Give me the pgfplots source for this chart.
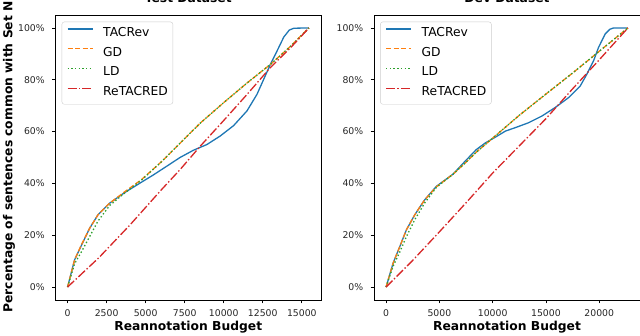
\documentclass[border=0pt]{standalone}
\usepackage{fontspec}
\setmainfont{DejaVu Sans}
\usepackage{pgfplots}
\pgfplotsset{compat=1.18}
\definecolor{c0}{HTML}{1F77B4}
\definecolor{c1}{HTML}{FF7F0E}
\definecolor{c2}{HTML}{2CA02C}
\definecolor{c3}{HTML}{D62728}
\pgfplotsset{
  panel/.style={
    scale only axis, height=285bp, anchor=south west,
    ymin=-5, ymax=105, ytick={0,20,...,100},
    yticklabel={\pgfmathprintnumber{\tick}\%},
    /pgf/number format/assume math mode=true,
    /pgf/number format/1000 sep={},
    scaled x ticks=false,
    tick align=outside, major tick length=3.3bp,
    xtick pos=bottom, ytick pos=left,
    every tick/.style={black, line width=0.75bp},
    axis line style={line width=0.75bp},
    tick label style={font=\fontsize{9.3bp}{11bp}\selectfont, text=black!85},
    xticklabel style={yshift=-3bp},
    yticklabel style={xshift=-4bp},
    label style={font=\fontsize{12.3bp}{14bp}\selectfont\bfseries},
    title style={font=\fontsize{12.3bp}{14bp}\selectfont\bfseries,
      at={(0.5,1)}, anchor=base, yshift=7bp},
    xlabel style={at={(0.5,0)}, anchor=base, yshift=-30bp},
    legend style={at={(0,1)}, anchor=north west, xshift=6.2bp, yshift=-6.7bp,
      draw=black!20, fill=white, rounded corners=2.5bp,
      font=\fontsize{12.3bp}{14bp}\selectfont,
      inner xsep=5bp, inner ysep=5.5bp, row sep=7.8bp, column sep=10bp,
      nodes={inner sep=0bp, text height=9bp, text depth=3bp}},
    legend cell align=left,
    legend image code/.code={\draw[##1] (0bp,4.5bp) -- (25bp,4.5bp);},
    every axis plot/.append style={line width=1.3bp},
  },
  tacrev/.style={c0, solid},
  gd/.style={c1, dash pattern=on 5.2bp off 2.3bp},
  ld/.style={c2, dash pattern=on 1.4bp off 2.3bp},
  retacred/.style={c3, dash pattern=on 9bp off 2.25bp on 1.4bp off 2.25bp},
}

\begin{document}
\begin{tikzpicture}
% left: test set
\begin{axis}[panel, at={(55.5bp,36bp)}, width=265.5bp,
  xmin=-773, xmax=16228, xtick={0,2500,...,15000},
  title={Test Dataset}, xlabel={Reannotation Budget},
  ylabel={Percentage of sentences common with Set N},
  ylabel style={at={(0,0)}, anchor=base west, xshift=-16bp, yshift=43bp}]
  \addplot[tacrev] coordinates {(0,0) (450,10.5) (880,16) (1415,22.7) (1950,27.9)
    (2700,32.4) (3665,36.5) (4740,40.5) (5500,43.3) (6240,46.2) (7200,50) (8058,52.8)
    (8920,55) (9775,58.3) (10630,62.3) (11490,68) (12130,74.4) (12560,80.2)
    (12990,86) (13420,91.2) (13846,96.5) (14200,99.2) (14490,99.9) (15455,100)};
  \addplot[gd] coordinates {(0,0) (450,10.5) (880,16.2) (1415,22.7) (1950,27.9)
    (2700,32.4) (3665,36.8) (4740,41.5) (6000,48.3) (7200,55.5) (8500,63.3)
    (10000,71.2) (11500,78.8) (13000,86) (14200,92.5) (15455,100)};
  \addplot[ld] coordinates {(0,0) (450,9) (880,13.5) (1415,19.5) (1950,25.5)
    (2700,31.5) (3665,36.3) (4740,41.3) (6000,48.3) (7200,55.5) (8500,63.3)
    (10000,71.2) (11500,78.8) (13000,86) (14200,92.5) (15455,100)};
  \addplot[retacred] coordinates {(0,0) (2000,11.3) (4000,24) (6000,37.5) (7200,45.3)
    (8500,54.4) (10000,64.3) (11500,74.4) (13000,84.8) (14300,92.5) (15455,100)};
  \legend{TACRev, GD, LD, ReTACRED}
\end{axis}
% right: dev set
\begin{axis}[panel, at={(374bp,36bp)}, width=266bp,
  xmin=-1134, xmax=23824, xtick={0,5000,...,20000},
  title={Dev Dataset}, xlabel={Reannotation Budget}]
  \addplot[tacrev] coordinates {(0,0) (657,9.2) (1283,15.6) (1910,22.1) (2692,27.9)
    (3630,33.7) (4725,38.9) (6290,43.6) (7400,48.5) (8450,53) (9300,55.6)
    (10235,57.8) (11200,60.2) (12110,61.5) (13360,63.4) (14620,66) (15870,69.3)
    (17120,73.1) (18215,77.6) (18845,82.2) (19465,87.3) (19935,92.5) (20560,97.7)
    (21000,99.5) (21345,100) (22690,100)};
  \addplot[gd] coordinates {(0,0) (657,9.2) (1283,15.6) (1910,22.1) (2692,27.9)
    (3630,33.7) (4725,38.7) (6290,43.6) (7400,47.8) (8450,52) (10235,58.3)
    (12500,66.3) (15000,74.5) (17500,82.6) (20000,91) (22690,100)};
  \addplot[ld] coordinates {(0,0) (657,8) (1283,13.5) (1910,19.5) (2692,26)
    (3630,32.5) (4725,38.5) (6290,43.6) (7400,47.8) (8450,52) (10235,58.3)
    (12500,66.3) (15000,74.5) (17500,82.6) (20000,91) (22690,100)};
  \addplot[retacred] coordinates {(0,0) (2500,10.3) (5000,21.3) (7500,32.5)
    (10000,44) (12500,54.5) (15000,65) (17500,76.5) (20000,87.7) (22690,100)};
  \legend{TACRev, GD, LD, ReTACRED}
\end{axis}
\pgfresetboundingbox
\path[use as bounding box] (0,0) rectangle (640bp,336bp);
\end{tikzpicture}
\end{document}
